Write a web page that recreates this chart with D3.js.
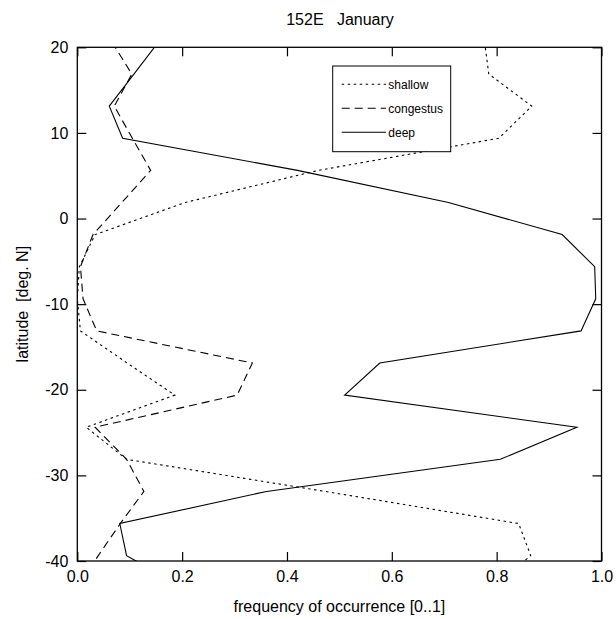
<!DOCTYPE html>
<html>
<head>
<meta charset="utf-8">
<script src="https://cdn.jsdelivr.net/npm/d3@7"></script>
<style>
  body { margin: 0; background: #fff; }
  text { font-family: "Liberation Sans", Arial, sans-serif; }
</style>
</head>
<body>
<script>
// latitude grid (cell centres, deg N) - outer points get clipped by the frame
const latitudes = [20.625, 16.875, 13.125, 9.375, 5.625, 1.875, -1.875, -5.625, -9.375,
  -13.125, -16.875, -20.625, -24.375, -28.125, -31.875, -35.625, -39.375, -43.125];

const shallow = [0.777, 0.785, 0.867, 0.804, 0.46, 0.206, 0.034, 0.004, 0.0,
  0.006, 0.095, 0.186, 0.017, 0.094, 0.473, 0.842, 0.865, 0.79];
const congestus = [0.066, 0.104, 0.0705, 0.105, 0.14, 0.085, 0.03, 0.006, 0.011,
  0.037, 0.334, 0.305, 0.034, 0.094, 0.127, 0.082, 0.04, 0.0];
const deep = [0.155, 0.108, 0.061, 0.0865, 0.42, 0.708, 0.925, 0.987, 0.989,
  0.961, 0.577, 0.51, 0.953, 0.807, 0.361, 0.081, 0.094, 0.203];

const series = [
  { name: "shallow", values: shallow, dash: "2.5,3.5" },
  { name: "congestus", values: congestus, dash: "8,5" },
  { name: "deep", values: deep, dash: null },
];

const xTicks = [0, 0.2, 0.4, 0.6, 0.8, 1.0];
const yTicks = [20, 10, 0, -10, -20, -30, -40];

const width = 616, height = 619;
const marginLeft = 77.3, marginRight = 14.5, marginTop = 47.3, marginBottom = 58;

const x = d3.scaleLinear().domain([0, 1]).range([marginLeft, width - marginRight]);
const y = d3.scaleLinear().domain([20, -40]).range([marginTop, height - marginBottom]);

const svg = d3.select("body").append("svg")
  .attr("width", width)
  .attr("height", height);

// clip lines to the frame
svg.append("defs").append("clipPath")
  .attr("id", "plot-clip")
  .append("rect")
  .attr("x", marginLeft)
  .attr("y", marginTop)
  .attr("width", x(1) - marginLeft)
  .attr("height", y(-40) - marginTop);

// Title
svg.append("text")
  .attr("x", 340)
  .attr("y", 25)
  .attr("text-anchor", "middle")
  .attr("font-size", 16)
  .style("white-space", "pre")
  .text("152E   January");

// Lines
const line = d3.line()
  .x((d) => x(d[0]))
  .y((d) => y(d[1]));

svg.append("g")
  .attr("clip-path", "url(#plot-clip)")
  .selectAll("path")
  .data(series)
  .join("path")
  .attr("fill", "none")
  .attr("stroke", "#000")
  .attr("stroke-width", 1.1)
  .attr("stroke-dasharray", (d) => d.dash)
  .attr("d", (d) => line(d.values.map((v, i) => [v, latitudes[i]])));

// Axes: ticks point inward on all four sides
const styleAxis = (g) => {
  g.select(".domain").remove();
  g.selectAll(".tick line").attr("stroke", "#000").attr("stroke-width", 1.2);
  g.selectAll("text").attr("font-size", 16).attr("fill", "#000")
    .attr("font-family", "Liberation Sans, Arial, sans-serif");
};

svg.append("g")
  .attr("transform", `translate(0,${y(-40)})`)
  .call(d3.axisBottom(x).tickValues(xTicks).tickFormat((d) => d.toFixed(1)).tickSize(-9).tickPadding(10))
  .call(styleAxis);

svg.append("g")
  .attr("transform", `translate(0,${y(20)})`)
  .call(d3.axisTop(x).tickValues(xTicks).tickFormat("").tickSize(-9))
  .call(styleAxis);

svg.append("g")
  .attr("transform", `translate(${marginLeft},0)`)
  .call(d3.axisLeft(y).tickValues(yTicks).tickFormat((d) => String(d)).tickSize(-9).tickPadding(9))
  .call(styleAxis);

svg.append("g")
  .attr("transform", `translate(${x(1)},0)`)
  .call(d3.axisRight(y).tickValues(yTicks).tickFormat("").tickSize(-9))
  .call(styleAxis);

// Frame
svg.append("rect")
  .attr("x", marginLeft)
  .attr("y", marginTop)
  .attr("width", x(1) - marginLeft)
  .attr("height", y(-40) - marginTop)
  .attr("fill", "none")
  .attr("stroke", "#000")
  .attr("stroke-width", 1.3);

// Axis labels
svg.append("text")
  .attr("x", (marginLeft + x(1)) / 2)
  .attr("y", 612)
  .attr("text-anchor", "middle")
  .attr("font-size", 16)
  .text("frequency of occurrence [0..1]");

svg.append("text")
  .attr("transform", `translate(28,${(marginTop + y(-40)) / 2}) rotate(-90)`)
  .attr("text-anchor", "middle")
  .attr("font-size", 16)
  .style("white-space", "pre")
  .text("latitude  [deg. N]");

// Legend
const legend = svg.append("g").attr("transform", "translate(332.7,66)");
legend.append("rect")
  .attr("width", 118)
  .attr("height", 85.7)
  .attr("fill", "#fff")
  .attr("stroke", "#000")
  .attr("stroke-width", 1);

const items = legend.selectAll("g.item")
  .data(series)
  .join("g")
  .attr("class", "item")
  .attr("transform", (d, i) => `translate(0,${18.3 + i * 24})`);

items.append("line")
  .attr("x1", 9)
  .attr("x2", 53.3)
  .attr("stroke", "#000")
  .attr("stroke-width", 1.1)
  .attr("stroke-dasharray", (d) => d.dash);

items.append("text")
  .attr("x", 55.6)
  .attr("dy", "0.35em")
  .attr("font-size", 12)
  .text((d) => d.name);
</script>
</body>
</html>
